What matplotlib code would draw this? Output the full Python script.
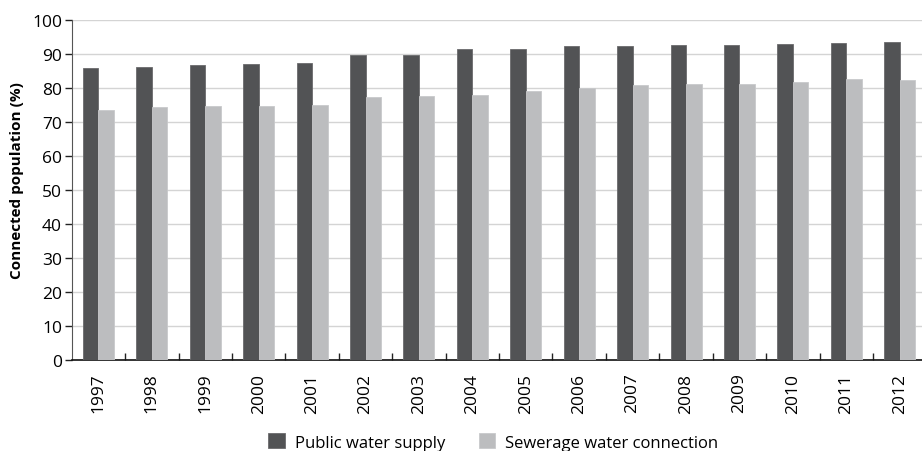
import numpy as np
import matplotlib.pyplot as plt

plt.rcParams["font.family"] = ["Open Sans", "DejaVu Sans"]

years = [str(y) for y in range(1997, 2013)]
public_water = [86.0, 86.2, 86.9, 87.1, 87.4, 89.8, 89.8, 91.6,
                91.6, 92.4, 92.3, 92.6, 92.8, 93.1, 93.4, 93.5]
sewerage = [73.5, 74.4, 74.6, 74.8, 75.0, 77.4, 77.7, 77.9,
            79.2, 80.0, 80.8, 81.1, 81.3, 81.9, 82.6, 82.5]

dark = "#525355"
light = "#bcbdbf"

fig = plt.figure(figsize=(9.22, 4.52), dpi=100)
ax = fig.add_axes([0.0778, 0.2013, 0.927, 0.752])

x = np.arange(len(years))
w = 0.29
ax.bar(x - w / 2, public_water, width=w, color=dark, edgecolor="#6a6b6d",
       linewidth=0.6, label="Public water supply", zorder=3)
ax.bar(x + w / 2, sewerage, width=w, color=light, edgecolor="#c8c9cb",
       linewidth=0.6, label="Sewerage water connection", zorder=3)

ax.set_xlim(-0.5, len(years) - 0.5)
ax.set_ylim(0, 100)
ax.set_yticks(np.arange(0, 101, 10))
ax.yaxis.grid(True, color="#d4d4d4", lw=1.0, zorder=0)
ax.set_axisbelow(True)

ax.set_xticks(x)
ax.set_xticklabels(years, rotation=90, fontsize=12.5)
ax.tick_params(axis="x", which="major", length=0, pad=9)
ax.set_xticks(np.arange(0.5, len(years) - 1, 1.0), minor=True)
ax.tick_params(axis="x", which="minor", direction="in", length=5,
               width=1, color="#222222")
ax.tick_params(axis="y", labelsize=12.5, length=5, width=1, pad=2,
               color="#222222")

for s in ["top", "right"]:
    ax.spines[s].set_visible(False)
ax.spines["left"].set_color("#555555")
ax.spines["bottom"].set_color("#111111")
ax.spines["bottom"].set_linewidth(1.2)

ax.set_ylabel("Connected population (%)", fontsize=11, fontweight="bold")
ax.yaxis.set_label_coords(-0.056, 0.53)

ax.legend(loc="center", bbox_to_anchor=(0.535, 1 - 443 / 452),
          bbox_transform=fig.transFigure, ncol=2, frameon=False,
          fontsize=12, handlelength=1.0, handleheight=1.0,
          columnspacing=2.0, handletextpad=0.6)

fig.savefig("out.png", dpi=100)
